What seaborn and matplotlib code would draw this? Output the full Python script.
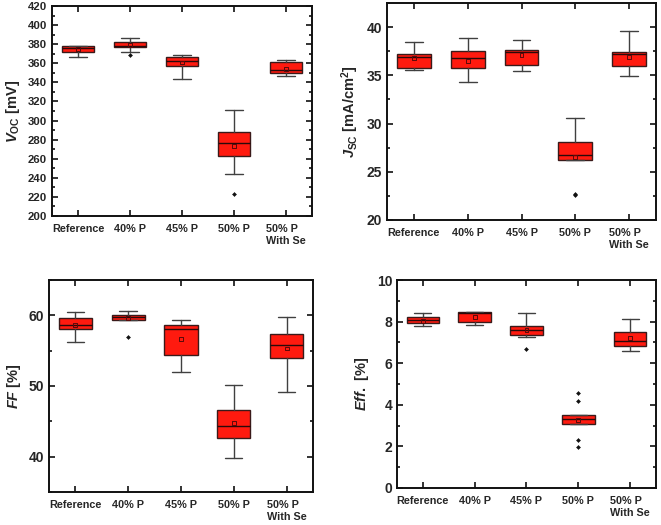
import numpy as np
import matplotlib
matplotlib.use("Agg")
import matplotlib.pyplot as plt
import seaborn as sns
from matplotlib.ticker import MultipleLocator

sns.set_style("ticks")
plt.rcParams['font.family'] = ['Liberation Sans', 'DejaVu Sans']
plt.rcParams['font.weight'] = 'bold'
plt.rcParams['mathtext.fontset'] = 'custom'
plt.rcParams['mathtext.rm'] = 'Liberation Sans:bold'
plt.rcParams['mathtext.bf'] = 'Liberation Sans:bold'
plt.rcParams['mathtext.it'] = 'Liberation Sans:italic:bold'

categories = ["Reference", "40% P", "45% P", "50% P", "50% P\nWith Se"]

# Voc [mV]
voc_lo = [367, 372, 344, 243.5, 347]
voc_q1 = [372, 377.3, 357, 262.4, 350.3]
voc_med = [375.5, 377.8, 362, 276.4, 352.7]
voc_q3 = [378, 382.2, 366.4, 287.6, 361.5]
voc_hi = [378.5, 386.4, 369, 311.4, 363.3]
voc_mean = [374.5, 378.7, 360.8, 273.2, 353.8]
voc_out = [[], [369], [], [223], []]

# Jsc [mA/cm2]
jsc_lo = [35.5, 34.3, 35.4, 26.2, 34.9]
jsc_q1 = [35.8, 35.75, 36.1, 26.2, 36.0]
jsc_med = [36.9, 36.8, 37.4, 26.75, 37.2]
jsc_q3 = [37.2, 37.5, 37.6, 28.05, 37.4]
jsc_hi = [38.5, 38.9, 38.7, 30.6, 39.6]
jsc_mean = [36.8, 36.5, 37.1, 26.5, 36.9]
jsc_out = [[], [], [], [22.7, 22.6], []]

# FF [%]
ff_lo = [56.2, 59.3, 52.0, 39.8, 49.2]
ff_q1 = [58.1, 59.4, 54.4, 42.6, 53.9]
ff_med = [58.7, 59.8, 58.1, 44.4, 55.8]
ff_q3 = [59.6, 60.0, 58.6, 46.6, 57.3]
ff_hi = [60.5, 60.6, 59.3, 50.1, 59.8]
ff_mean = [58.6, 59.6, 56.7, 44.7, 55.3]
ff_out = [[], [57.0], [], [], []]

# Eff [%]
eff_lo = [7.8, 7.82, 7.28, 3.07, 6.59]
eff_q1 = [7.95, 7.97, 7.36, 3.07, 6.83]
eff_med = [8.1, 8.4, 7.58, 3.31, 7.07]
eff_q3 = [8.24, 8.48, 7.8, 3.5, 7.52]
eff_hi = [8.4, 8.48, 8.42, 3.5, 8.14]
eff_mean = [8.05, 8.24, 7.58, 3.26, 7.23]
eff_out = [[], [], [6.69], [4.59, 4.19, 2.32, 1.98], []]


def draw_panel(ax, lo, q1, med, q3, hi, mean, out, ylim, major, minor, ylabel, tsize):
    stats = []
    for i in range(len(categories)):
        stats.append(dict(whislo=lo[i], q1=q1[i], med=med[i], q3=q3[i],
                          whishi=hi[i], fliers=[]))
    pos = list(range(len(categories)))
    ax.bxp(stats, positions=pos, widths=0.63, capwidths=0.33, patch_artist=True,
           showfliers=False,
           boxprops=dict(facecolor='#ff1a0f', edgecolor='#3a1a1a', linewidth=1.0),
           medianprops=dict(color='#2a0a0a', linewidth=1.0),
           whiskerprops=dict(color='#404040', linewidth=1.0),
           capprops=dict(color='#404040', linewidth=1.0))
    # mean markers
    sns.scatterplot(x=pos, y=mean, ax=ax, marker='s', s=8, facecolor='none',
                    edgecolor='#5a0a0a', linewidth=0.7, zorder=5)
    # outliers
    ox = [i for i, v in enumerate(out) for _ in v]
    oy = [y for v in out for y in v]
    if oy:
        sns.scatterplot(x=ox, y=oy, ax=ax, marker='D', s=4, color='#111111',
                        edgecolor='#111111', linewidth=0.4, zorder=5)
    ax.set_xlim(-0.5, 4.5)
    ax.set_ylim(*ylim)
    ax.set_xticks(pos)
    ax.set_xticklabels(categories, fontsize=7.8, fontweight='bold')
    ax.yaxis.set_major_locator(MultipleLocator(major))
    ax.yaxis.set_minor_locator(MultipleLocator(minor))
    ax.tick_params(axis='both', which='both', direction='in', top=True, right=True,
                   width=1.2, color='#111111')
    ax.tick_params(axis='both', which='major', length=4)
    ax.tick_params(axis='y', which='minor', length=2.5)
    ax.tick_params(axis='x', which='minor', bottom=False, top=False)
    ax.tick_params(axis='y', labelsize=tsize)
    ax.tick_params(axis='x', pad=6)
    for lab in ax.get_yticklabels():
        lab.set_fontweight('bold')
    for sp in ax.spines.values():
        sp.set_linewidth(1.4)
        sp.set_color('#111111')
    ax.set_ylabel(ylabel, fontsize=10.5, fontweight='bold', labelpad=4)
    for lab in ax.get_xticklabels():
        if '\n' in lab.get_text():
            lab.set_multialignment('left')


fig = plt.figure(figsize=(6.61, 5.25), dpi=100)
ax1 = fig.add_axes([0.0787, 0.5886, 0.3933, 0.4])
ax2 = fig.add_axes([0.5855, 0.581, 0.407, 0.4133])
ax3 = fig.add_axes([0.0741, 0.0629, 0.3994, 0.4038])
ax4 = fig.add_axes([0.6006, 0.0705, 0.3918, 0.396])

draw_panel(ax1, voc_lo, voc_q1, voc_med, voc_q3, voc_hi, voc_mean, voc_out,
           (200, 420), 20, 10, r'$V_{\mathrm{OC}}$ [mV]', 8.2)
draw_panel(ax2, jsc_lo, jsc_q1, jsc_med, jsc_q3, jsc_hi, jsc_mean, jsc_out,
           (20, 42.5), 5, 2.5, r'$J_{\mathrm{SC}}$ [mA/cm$^{\mathrm{2}}$]', 10)
draw_panel(ax3, ff_lo, ff_q1, ff_med, ff_q3, ff_hi, ff_mean, ff_out,
           (35, 65), 10, 5, r'$FF$ [%]', 10)
draw_panel(ax4, eff_lo, eff_q1, eff_med, eff_q3, eff_hi, eff_mean, eff_out,
           (0, 10), 2, 1, r'$Eff.$ [%]', 10)

fig.savefig("out.png", dpi=100)
